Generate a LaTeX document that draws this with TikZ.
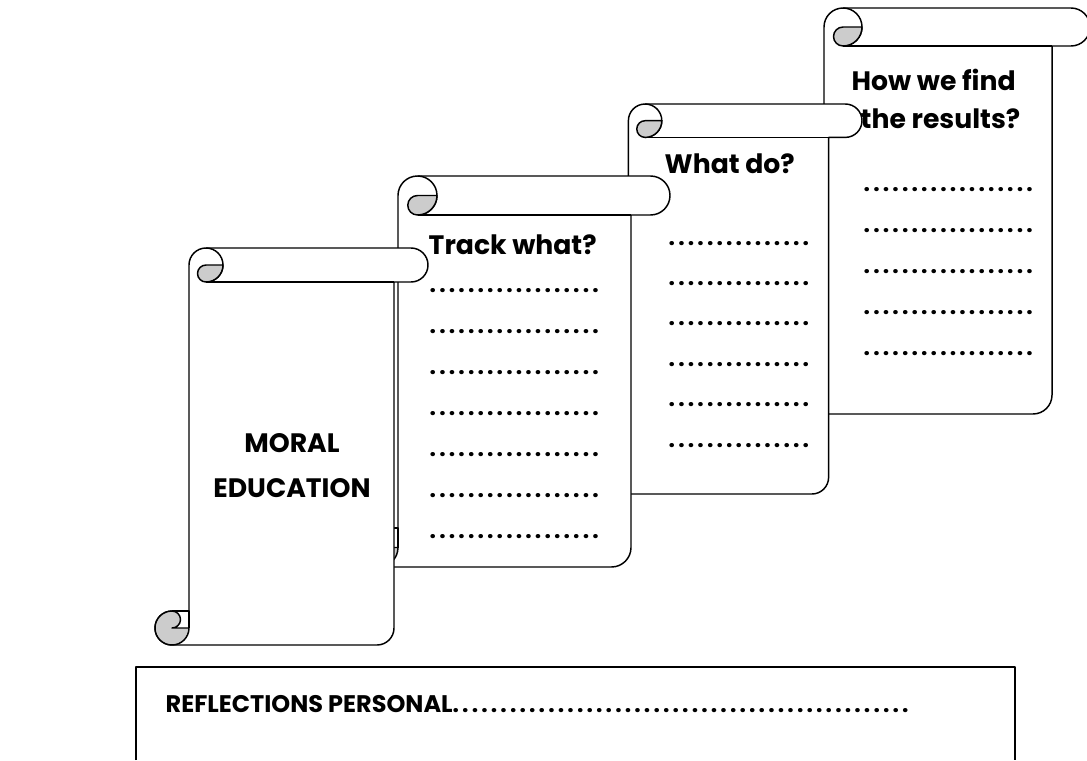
\documentclass[tikz,border=0pt]{standalone}
\usepackage{fontspec}
\setmainfont{Poppins}
\newfontfamily\dotfont{Poppins}[LetterSpace=14]
\definecolor{curlgray}{RGB}{204,204,204}
\newcommand\scrollshape[5]{%
 \pgfmathsetmacro\sL{#1}\pgfmathsetmacro\sT{#2}\pgfmathsetmacro\sR{#3}\pgfmathsetmacro\sB{#4}%
 \pgfmathsetmacro\sA{#5}\pgfmathsetmacro\sH{#5/2}\pgfmathsetmacro\sQ{#5/4}%
 \path[paper] ({\sL+\sA},{\sT+\sH}) arc[start angle=180,end angle=270,radius=\sH]
   -- ({\sR-\sH},\sT) arc[start angle=270,end angle=450,radius=\sH]
   -- ({\sR-\sA},{\sT+\sA}) -- ({\sR-\sA},{\sB-\sH}) arc[start angle=0,end angle=90,radius=\sH]
   -- ({\sL+\sH},\sB) arc[start angle=90,end angle=270,radius=\sH]
   -- ({\sL+\sA},{\sB-\sA}) -- cycle;
 \draw ({\sL+\sA+\sH},{\sT+\sA}) -- ({\sR-\sA},{\sT+\sA});
 \draw ({\sL+\sA+\sH},{\sT+\sA}) arc[start angle=90,end angle=-90,radius=\sH];
 \path[curl] ({\sL+\sA+\sA},{\sT+\sH}) -- ({\sL+\sA+\sH},{\sT+\sH})
   arc[start angle=270,end angle=90,radius=\sQ]
   arc[start angle=90,end angle=0,radius=\sH] -- cycle;
 \path[curl] ({\sL+\sA},{\sB-\sH}) arc[start angle=0,end angle=270,radius=\sH]
   arc[start angle=270,end angle=450,radius=\sQ] -- cycle;
 \draw ({\sL+\sH},{\sB-\sA}) -- ({\sL+\sA},{\sB-\sA}) -- ({\sL+\sA},{\sB-\sH});
}
\begin{document}
\begin{tikzpicture}[x=0.75pt,y=-0.75pt,line width=1.1pt,line join=round,
  paper/.style={draw=black,fill=white},
  curl/.style={draw=black,fill=curlgray},
  lbl/.style={font=\fontsize{20}{24}\selectfont\bfseries,inner sep=0pt,anchor=base west},
  clbl/.style={font=\fontsize{20}{24}\selectfont\bfseries,inner sep=0pt,anchor=base},
  rlbl/.style={font=\fontsize{18}{22}\selectfont\bfseries,inner sep=0pt,anchor=base west},
  dots/.style={font=\fontsize{17}{20}\dotfont\bfseries,inner sep=0pt,anchor=base west}]
\clip (0,0) rectangle (1087,760);
\fill[white] (0,0) rectangle (1087,760);
% scrolls, back to front
\scrollshape{786}{8}{1090}{414}{38}
\scrollshape{595}{104}{862}{494}{33.4}
\scrollshape{359}{176}{670}{567}{39}
\scrollshape{155}{248}{428}{645}{34}
% scroll 1 text
\node[clbl] (moral) at (292,452) {MORAL};
\node[clbl] (educ) at (292,497) {EDUCATION};
% scroll 2 text
\node[lbl] (track) at (428,254) {Track what?};
\foreach \i in {0,...,6} {\node[dots] (d2\i) at (429,{292+41*\i}) {..................};}
% scroll 3 text
\node[lbl] (whatdo) at (664,173) {What do?};
\foreach \i in {0,...,5} {\node[dots] (d3\i) at (668,{245+40.4*\i}) {...............};}
% scroll 4 text
\node[lbl] (how) at (851,90) {How we find};
\node[lbl] (res) at (860,128) {the results?};
\foreach \i in {0,...,4} {\node[dots] (d4\i) at (863,{191+41*\i}) {..................};}
% reflections box
\draw (136,760) -- (136,667) -- (1015,667) -- (1015,760);
\node[rlbl] (refl) at (165,712) {REFLECTIONS PERSONAL\fontsize{17}{20}\dotfont................................................};
\end{tikzpicture}
\end{document}
